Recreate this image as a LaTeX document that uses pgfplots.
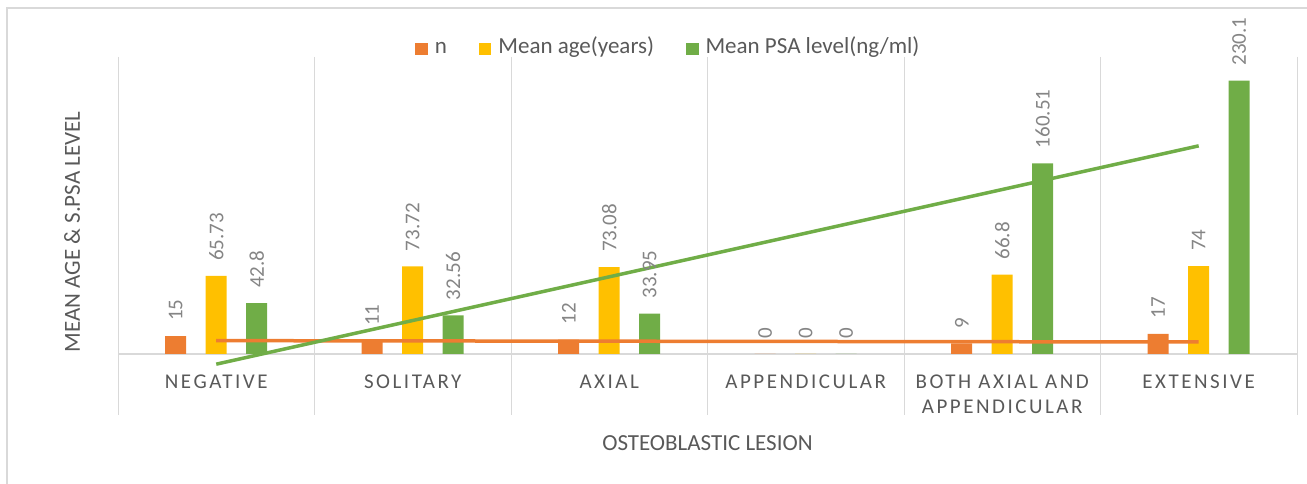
\documentclass[border=0pt]{standalone}
\usepackage{fontspec}
\setmainfont{Carlito}
\newfontfamily\catfont[LetterSpace=12]{Carlito}
\usepackage{pgfplots}
\pgfplotsset{compat=1.18}
\definecolor{cN}{HTML}{ED7D31}
\definecolor{cA}{HTML}{FFC000}
\definecolor{cP}{HTML}{70AD47}
\definecolor{txt}{HTML}{595959}
\definecolor{lbl}{HTML}{858585}
\definecolor{grd}{HTML}{D9D9D9}
\begin{document}
\begin{tikzpicture}[x=1pt,y=1pt]
\path[use as bounding box] (0,0) rectangle (1307,484);
\draw[grd, line width=1.2pt] (7,0) -- (7,476) -- (1307,476);
\foreach \i in {0,...,6} { \draw[grd, line width=1pt] ({118+\i*196.5},427) -- ({118+\i*196.5},69); }
\draw[grd, line width=1.3pt] (118,130) -- (1297,130);
\node[rotate=90, text=txt, font=\fontsize{23}{27}\selectfont] at (72,252) {MEAN AGE \& S.PSA LEVEL};
\node[text=txt, font=\fontsize{23}{27}\selectfont] at (707.5,41) {OSTEOBLASTIC LESION};
\begin{axis}[
  at={(118pt,130pt)}, anchor=south west,
  scale only axis, width=1179pt, height=297pt,
  xmin=-0.5, xmax=5.5, ymin=0, ymax=250,
  clip=false,
  axis line style={draw=none},
  major tick length=0pt,
  ytick=\empty,
  xtick={0,1,2,3,4,5},
  xticklabels={NEGATIVE,SOLITARY,AXIAL,APPENDICULAR,{BOTH AXIAL AND\\APPENDICULAR},EXTENSIVE},
  xticklabel style={font=\catfont\fontsize{21}{25}\selectfont, text=txt, align=center, anchor=north, inner sep=0pt, yshift=-21pt},
  /pgf/number format/assume math mode=true,
  nodes near coords style={font=\fontsize{21}{25}\selectfont, text=lbl, rotate=90, anchor=west, inner ysep=0pt, inner xsep=15pt},
  legend style={at={(rel axis cs:0.466,1.027)}, anchor=center, draw=none, fill=none, legend columns=-1,
    font=\fontsize{23}{27}\selectfont, text=txt, nodes={inner sep=0pt, text height=0.68em, text depth=0.2em},
    /tikz/every odd column/.append style={column sep=7pt},
    /tikz/every even column/.append style={column sep=32pt}},
  legend image code/.code={\path[#1, draw=none] (0pt,-4.5pt) rectangle (12.5pt,8pt);},
]
\addplot[ybar, fill=cN, draw=none, bar width=21pt, bar shift=0pt, nodes near coords] coordinates {(-0.2061,15) (0.7939,11) (1.7939,12) (2.7939,0) (3.7939,9) (4.7939,17)};
\addlegendentry{n}
\addplot[ybar, fill=cA, draw=none, bar width=21pt, bar shift=0pt, nodes near coords] coordinates {(0,65.73) (1,73.72) (2,73.08) (3,0) (4,66.8) (5,74)};
\addlegendentry{Mean age(years)}
\addplot[ybar, fill=cP, draw=none, bar width=21pt, bar shift=0pt, nodes near coords] coordinates {(0.2061,42.8) (1.2061,32.56) (2.2061,33.95) (3.2061,0) (4.2061,160.51) (5.2061,230.1)};
\addlegendentry{Mean PSA level(ng/ml)}
\addplot[sharp plot, cN, line width=3.5pt, forget plot] coordinates {(0,11.24) (5,10.10)};
\addplot[sharp plot, cP, line width=3.5pt, forget plot] coordinates {(0,-8.56) (5,175.2)};
\end{axis}
\end{tikzpicture}
\end{document}
